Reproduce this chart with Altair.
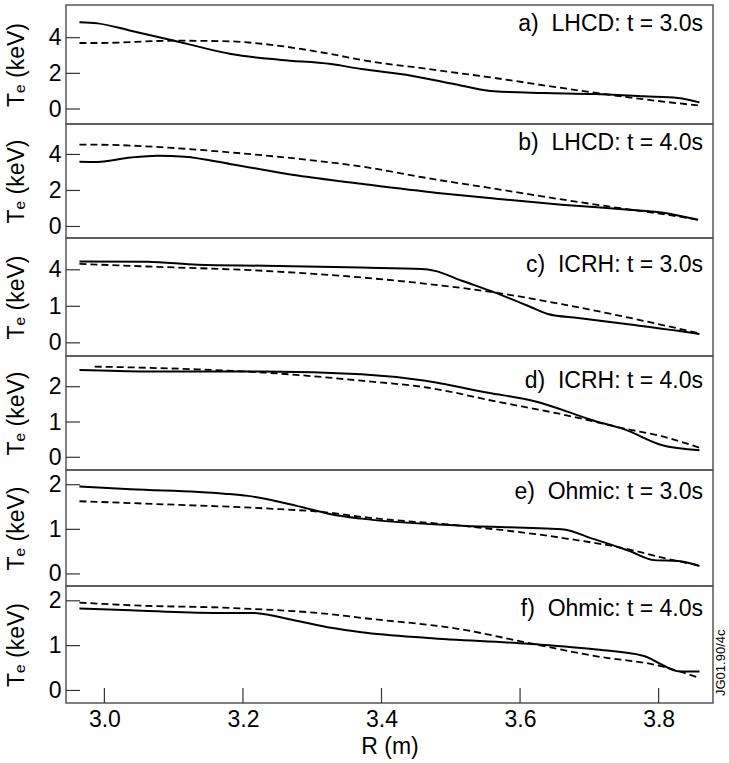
import altair as alt
import pandas as pd

FONT = "Liberation Sans"

# ---------------- data ----------------
X_DOMAIN = [2.9446, 3.8785]
X_TICKS = [3.0, 3.2, 3.4, 3.6, 3.8]

PANEL_LABELS = [
    "a)\u00a0\u00a0LHCD: t = 3.0s",
    "b)\u00a0\u00a0LHCD: t = 4.0s",
    "c)\u00a0\u00a0ICRH: t = 3.0s",
    "d)\u00a0\u00a0ICRH: t = 4.0s",
    "e)\u00a0\u00a0Ohmic: t = 3.0s",
    "f)\u00a0\u00a0Ohmic: t = 4.0s",
]

# a) LHCD t=3.0s
A_SOLID_R = [2.964, 2.990, 3.038, 3.101, 3.183, 3.255, 3.327, 3.371, 3.443, 3.516, 3.563, 3.635, 3.707, 3.779, 3.828, 3.859]
A_SOLID_T = [4.86, 4.80, 4.39, 3.83, 3.08, 2.75, 2.52, 2.24, 1.87, 1.31, 0.99, 0.90, 0.84, 0.71, 0.62, 0.37]
A_DASH_R = [2.964, 2.990, 3.101, 3.183, 3.231, 3.327, 3.371, 3.468, 3.563, 3.660, 3.757, 3.859]
A_DASH_T = [3.70, 3.70, 3.83, 3.79, 3.64, 3.08, 2.75, 2.24, 1.74, 1.18, 0.65, 0.19]

# b) LHCD t=4.0s
B_SOLID_R = [2.964, 2.990, 3.038, 3.077, 3.116, 3.183, 3.279, 3.371, 3.481, 3.563, 3.660, 3.757, 3.804, 3.857]
B_SOLID_T = [3.59, 3.58, 3.83, 3.93, 3.87, 3.46, 2.83, 2.37, 1.86, 1.55, 1.21, 0.93, 0.78, 0.37]
B_DASH_R = [2.964, 2.990, 3.087, 3.183, 3.279, 3.371, 3.481, 3.563, 3.660, 3.757, 3.804, 3.859]
B_DASH_T = [4.54, 4.54, 4.39, 4.11, 3.76, 3.33, 2.59, 2.10, 1.50, 0.95, 0.70, 0.36]

# c) ICRH t=3.0s  (axis tick at 2 is printed as "4" in the original)
C_SOLID_R = [2.964, 3.062, 3.135, 3.231, 3.371, 3.458, 3.477, 3.516, 3.563, 3.612, 3.640, 3.684, 3.756, 3.828, 3.859]
C_SOLID_T = [2.23, 2.22, 2.14, 2.11, 2.06, 2.02, 1.97, 1.70, 1.38, 1.01, 0.79, 0.68, 0.51, 0.33, 0.24]
C_DASH_R = [2.964, 3.062, 3.231, 3.371, 3.468, 3.563, 3.660, 3.757, 3.859]
C_DASH_T = [2.16, 2.09, 1.97, 1.79, 1.61, 1.38, 1.06, 0.69, 0.26]

# d) ICRH t=4.0s
D_SOLID_R = [2.964, 3.062, 3.231, 3.371, 3.458, 3.554, 3.621, 3.708, 3.751, 3.804, 3.859]
D_SOLID_T = [2.47, 2.43, 2.43, 2.35, 2.18, 1.83, 1.59, 1.03, 0.79, 0.35, 0.20]
D_DASH_R = [2.986, 3.135, 3.231, 3.371, 3.468, 3.563, 3.660, 3.757, 3.804, 3.859]
D_DASH_T = [2.57, 2.49, 2.40, 2.17, 1.97, 1.59, 1.22, 0.79, 0.60, 0.27]

# e) Ohmic t=3.0s
E_SOLID_R = [2.964, 3.038, 3.173, 3.207, 3.279, 3.327, 3.371, 3.516, 3.660, 3.707, 3.757, 3.794, 3.828, 3.859]
E_SOLID_T = [1.96, 1.90, 1.80, 1.75, 1.52, 1.34, 1.24, 1.08, 1.00, 0.78, 0.52, 0.31, 0.29, 0.18]
E_DASH_R = [2.964, 3.087, 3.231, 3.327, 3.371, 3.516, 3.660, 3.757, 3.804, 3.859]
E_DASH_T = [1.63, 1.56, 1.47, 1.37, 1.28, 1.08, 0.81, 0.55, 0.37, 0.19]

# f) Ohmic t=4.0s
F_SOLID_R = [2.964, 3.038, 3.159, 3.212, 3.279, 3.327, 3.371, 3.467, 3.612, 3.707, 3.779, 3.804, 3.828, 3.859]
F_SOLID_T = [1.83, 1.79, 1.73, 1.73, 1.55, 1.40, 1.30, 1.17, 1.04, 0.92, 0.77, 0.58, 0.43, 0.42]
F_DASH_R = [2.964, 3.038, 3.183, 3.327, 3.371, 3.516, 3.612, 3.707, 3.804, 3.859]
F_DASH_T = [1.96, 1.90, 1.84, 1.70, 1.62, 1.36, 1.06, 0.77, 0.54, 0.28]

Y_TICKS = [[0, 2, 4], [0, 2, 4], [0, 1, 2], [0, 1, 2], [0, 1, 2], [0, 1, 2]]
Y_DOMAINS = [[-0.84, 5.83], [-0.64, 5.69], [-0.36, 2.87], [-0.36, 2.87], [-0.27, 2.33], [-0.28, 2.33]]
NOTE = "JG01.90/4c"

# ---------------- layout ----------------
W = 647
HEIGHTS = [119, 114, 118, 114, 116, 117]
LABEL_Y = [26, 26, 34, 32, 29, 30]
FS = 23

SOLIDS = [(A_SOLID_R, A_SOLID_T), (B_SOLID_R, B_SOLID_T), (C_SOLID_R, C_SOLID_T),
          (D_SOLID_R, D_SOLID_T), (E_SOLID_R, E_SOLID_T), (F_SOLID_R, F_SOLID_T)]
DASHES = [(A_DASH_R, A_DASH_T), (B_DASH_R, B_DASH_T), (C_DASH_R, C_DASH_T),
          (D_DASH_R, D_DASH_T), (E_DASH_R, E_DASH_T), (F_DASH_R, F_DASH_T)]

xscale = alt.Scale(domain=X_DOMAIN, nice=False, zero=False)

panels = []
for i in range(6):
    h = HEIGHTS[i]
    last = i == 5
    yscale = alt.Scale(domain=Y_DOMAINS[i], nice=False, zero=False)
    yaxis_kw = dict(
        values=Y_TICKS[i], ticks=False, domain=False, grid=False,
        labelFontSize=FS, labelFont=FONT, labelColor="black", labelPadding=5,
        labelOverlap=False,
        title="T\u2091 (keV)", titleFont=FONT, titleFontSize=FS,
        titleFontWeight="normal", titleColor="black",
        titleAngle=270, titleX=-43, titleY=h / 2,
        titleBaseline="alphabetic", titleAlign="center",
    )
    if i == 2:
        yaxis_kw["labelExpr"] = "datum.value == 2 ? '4' : datum.label"
    yaxis = alt.Axis(**yaxis_kw)
    if last:
        xaxis = alt.Axis(
            values=X_TICKS, format=".1f", ticks=False, domain=False, grid=False,
            labelFontSize=FS, labelFont=FONT, labelColor="black", labelPadding=5,
            title="R (m)", titleFont=FONT, titleFontSize=FS,
            titleFontWeight="normal", titleColor="black", titlePadding=4,
        )
    else:
        xaxis = None

    X = alt.X("R:Q", scale=xscale, axis=xaxis)
    Y = alt.Y("T:Q", scale=yscale, axis=yaxis)

    sr, st = SOLIDS[i]
    dr, dt = DASHES[i]
    solid = alt.Chart(pd.DataFrame({"R": sr, "T": st})).mark_line(
        color="black", strokeWidth=2, interpolate="monotone", clip=True
    ).encode(x=X, y=Y)
    dash = alt.Chart(pd.DataFrame({"R": dr, "T": dt})).mark_line(
        color="black", strokeWidth=1.8, strokeDash=[7, 4], interpolate="monotone", clip=True
    ).encode(x=X, y=Y)
    yt = alt.Chart(pd.DataFrame({"T": Y_TICKS[i]})).mark_rule(
        color="#333", strokeWidth=1.2
    ).encode(y=Y, x=alt.value(0), x2=alt.value(14))
    label = alt.Chart(pd.DataFrame({"label": [PANEL_LABELS[i]]})).mark_text(
        align="right", baseline="alphabetic", fontSize=FS, font=FONT, color="black"
    ).encode(x=alt.value(W - 10), y=alt.value(LABEL_Y[i]), text="label:N")
    layers = [solid, dash, yt, label]
    if last:
        xt = alt.Chart(pd.DataFrame({"R": X_TICKS})).mark_rule(
            color="#333", strokeWidth=1.2
        ).encode(x=X, y=alt.value(h), y2=alt.value(h - 15))
        note = alt.Chart(pd.DataFrame({"note": [NOTE]})).mark_text(
            angle=270, align="left", baseline="top", fontSize=13, font=FONT, color="black"
        ).encode(x=alt.value(W + 2), y=alt.value(110), text="note:N")
        layers += [xt, note]
    panels.append(alt.layer(*layers).properties(width=W, height=h))

chart = alt.vconcat(*panels, spacing=0, bounds="flush").properties(
    padding={"left": 4, "top": 4, "right": 0, "bottom": 0}
).configure_view(
    stroke="#555", strokeWidth=1.5
).configure_concat(spacing=0)

chart.save("out.html", embed_options={"renderer": "svg", "actions": False})
